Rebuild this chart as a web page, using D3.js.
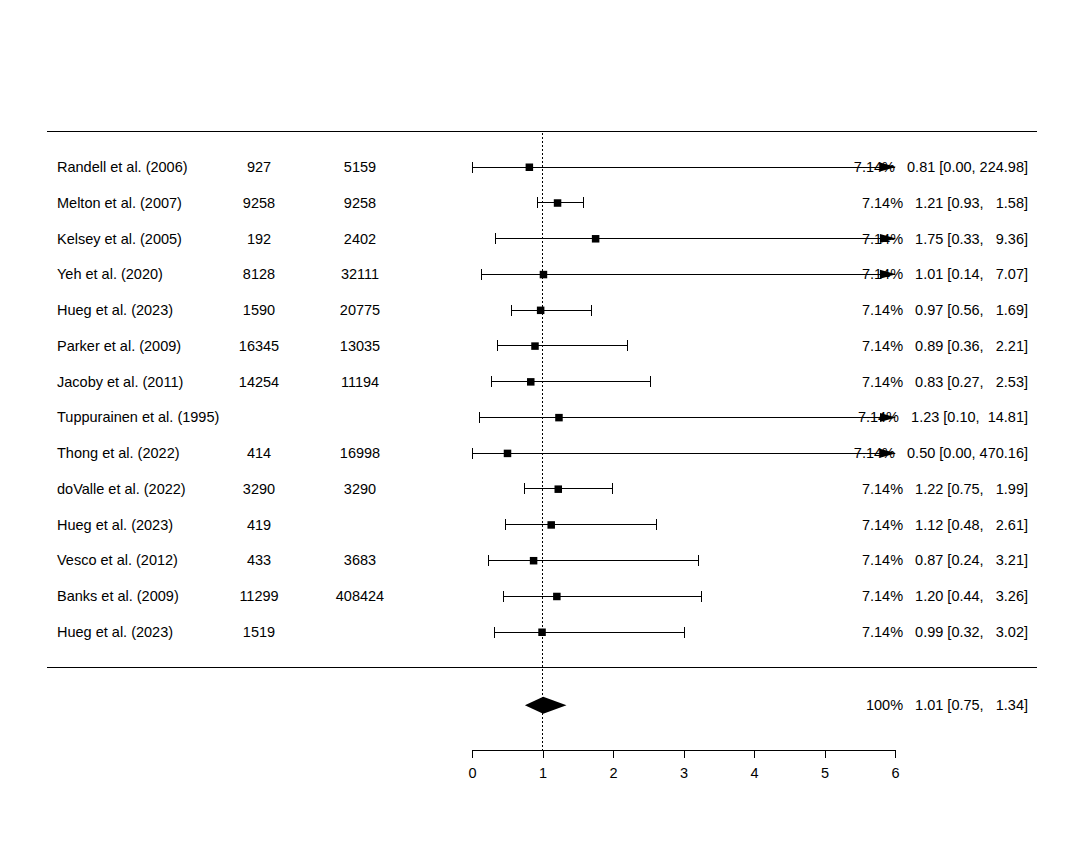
<!DOCTYPE html>
<html>
<head>
<meta charset="utf-8">
<script src="https://cdn.jsdelivr.net/npm/d3@7"></script>
<style>
  body { margin: 0; background: #fff; }
  text { font-family: "Liberation Sans", Arial, sans-serif; font-size: 14.5px; fill: #000; white-space: pre; }
  line { shape-rendering: crispEdges; }
</style>
</head>
<body>
<div id="chart"></div>
<script>
// study data, top to bottom
var studies = ['Randell et al. (2006)', 'Melton et al. (2007)', 'Kelsey et al. (2005)', 'Yeh et al. (2020)',
    'Hueg et al. (2023)', 'Parker et al. (2009)', 'Jacoby et al. (2011)', 'Tuppurainen et al. (1995)',
    'Thong et al. (2022)', 'doValle et al. (2022)', 'Hueg et al. (2023)', 'Vesco et al. (2012)',
    'Banks et al. (2009)', 'Hueg et al. (2023)'];
var colA = ['927', '9258', '192', '8128', '1590', '16345', '14254', '', '414', '3290', '419', '433', '11299', '1519'];
var colB = ['5159', '9258', '2402', '32111', '20775', '13035', '11194', '', '16998', '3290', '', '3683', '408424', ''];
var est = [0.81, 1.21, 1.75, 1.01, 0.97, 0.89, 0.83, 1.23, 0.50, 1.22, 1.12, 0.87, 1.20, 0.99];
var lower = [0.00, 0.93, 0.33, 0.14, 0.56, 0.36, 0.27, 0.10, 0.00, 0.75, 0.48, 0.24, 0.44, 0.32];
var upper = [224.98, 1.58, 9.36, 7.07, 1.69, 2.21, 2.53, 14.81, 470.16, 1.99, 2.61, 3.21, 3.26, 3.02];
var weights = ['7.14%', '7.14%', '7.14%', '7.14%', '7.14%', '7.14%', '7.14%', '7.14%', '7.14%', '7.14%', '7.14%', '7.14%', '7.14%', '7.14%'];
var summary = { est: 1.01, lower: 0.75, upper: 1.34, weight: '100%' };
var xTicks = [0, 1, 2, 3, 4, 5, 6];

var width = 1069, height = 847;
var k = studies.length;

var svg = d3.select('#chart').append('svg')
    .attr('width', width)
    .attr('height', height);

// scales
var x = d3.scaleLinear().domain([0, 6]).range([472, 895]);
var y = d3.scaleLinear().domain([1, k]).range([632, 167]); // row k at top

var rows = studies.map(function (s, i) { return k - i; });

function fmt(v) { return v.toFixed(2); }
var upW = d3.max(upper.concat([summary.upper]), function (v) { return fmt(v).length; });
function ciText(w, e, l, u) {
    var us = fmt(u);
    while (us.length < upW) us = ' ' + us;
    return w + '   ' + fmt(e) + ' [' + fmt(l) + ', ' + us + ']';
}

// horizontal lines
[k + 1, 0].forEach(function (r) {
    svg.append('line')
        .attr('x1', 47).attr('x2', 1037)
        .attr('y1', y(r)).attr('y2', y(r))
        .attr('stroke', '#000').attr('stroke-width', 1);
});

// reference line at 1
svg.append('line')
    .attr('x1', x(1)).attr('x2', x(1))
    .attr('y1', y(k + 1) + 2).attr('y2', 750)
    .attr('stroke', '#000')
    .attr('stroke-dasharray', '2,2');

// CIs
var g = svg.append('g');
rows.forEach(function (r, i) {
    var yy = y(r);
    var lo = Math.max(lower[i], 0), hi = Math.min(upper[i], 6);
    g.append('line')
        .attr('x1', x(lo)).attr('x2', x(hi))
        .attr('y1', yy).attr('y2', yy)
        .attr('stroke', '#000');
    g.append('line')
        .attr('x1', x(lo)).attr('x2', x(lo))
        .attr('y1', yy - 5.5).attr('y2', yy + 5.5)
        .attr('stroke', '#000');
    if (upper[i] > 6) {
        g.append('path')
            .attr('d', 'M' + (x(6) - 15) + ',' + (yy - 4.5) + 'L' + (x(6) + 1) + ',' + yy + 'L' + (x(6) - 15) + ',' + (yy + 4.5) + 'Z')
            .attr('fill', '#000');
    } else {
        g.append('line')
            .attr('x1', x(hi)).attr('x2', x(hi))
            .attr('y1', yy - 5.5).attr('y2', yy + 5.5)
            .attr('stroke', '#000');
    }
    g.append('rect')
        .attr('x', x(est[i]) - 3.5).attr('y', yy - 3.5)
        .attr('width', 7.5).attr('height', 7.5)
        .attr('fill', '#000');
});

// summary diamond
var ys = y(-1.05);
svg.append('path')
    .attr('d', 'M' + x(summary.lower) + ',' + ys + 'L' + x(summary.est) + ',' + (ys - 8.5) +
        'L' + x(summary.upper) + ',' + ys + 'L' + x(summary.est) + ',' + (ys + 8.5) + 'Z')
    .attr('fill', '#000');

// text columns
var t = svg.append('g').attr('dominant-baseline', 'central');
rows.forEach(function (r, i) {
    var yy = y(r);
    t.append('text').attr('x', 57).attr('y', yy).text(studies[i]);
    t.append('text').attr('x', 259).attr('y', yy).attr('text-anchor', 'middle').text(colA[i]);
    t.append('text').attr('x', 360).attr('y', yy).attr('text-anchor', 'middle').text(colB[i]);
    t.append('text').attr('x', 1028).attr('y', yy).attr('text-anchor', 'end')
        .text(ciText(weights[i], est[i], lower[i], upper[i]));
});
t.append('text').attr('x', 1028).attr('y', ys).attr('text-anchor', 'end')
    .text(ciText(summary.weight, summary.est, summary.lower, summary.upper));

// x axis
var axis = svg.append('g')
    .attr('transform', 'translate(0,750)')
    .call(d3.axisBottom(x).tickValues(xTicks).tickFormat(d3.format('d')).tickSize(8).tickSizeOuter(0).tickPadding(10));
axis.select('.domain').attr('stroke', '#000').attr('shape-rendering', 'crispEdges');
axis.selectAll('.tick line').attr('stroke', '#000');
axis.selectAll('.tick text')
    .style('font-family', '"Liberation Sans", Arial, sans-serif')
    .style('font-size', '14.5px')
    .attr('fill', '#000');
</script>
</body>
</html>
